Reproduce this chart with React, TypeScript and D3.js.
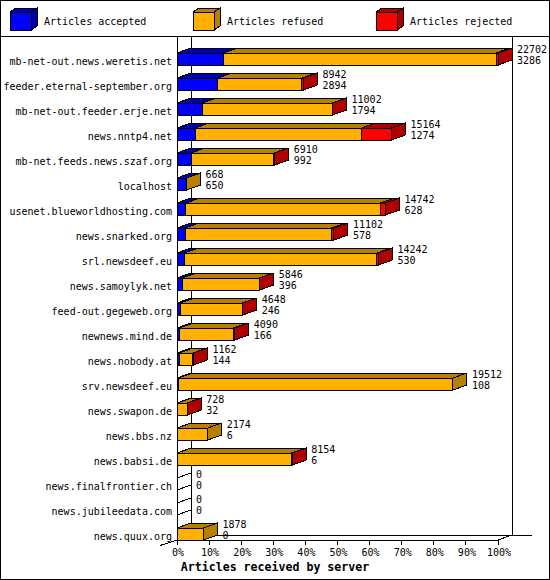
import { useEffect } from "react";
import * as d3 from "d3";

// servers, top to bottom
const hosts = [
  "mb-net-out.news.weretis.net",
  "feeder.eternal-september.org",
  "mb-net-out.feeder.erje.net",
  "news.nntp4.net",
  "mb-net.feeds.news.szaf.org",
  "localhost",
  "usenet.blueworldhosting.com",
  "news.snarked.org",
  "srl.newsdeef.eu",
  "news.samoylyk.net",
  "feed-out.gegeweb.org",
  "newnews.mind.de",
  "news.nobody.at",
  "srv.newsdeef.eu",
  "news.swapon.de",
  "news.bbs.nz",
  "news.babsi.de",
  "news.finalfrontier.ch",
  "news.jubileedata.com",
  "news.quux.org",
];

const totals = [
  22702, 8942, 11002, 15164, 6910, 668, 14742, 11102, 14242, 5846, 4648, 4090,
  1162, 19512, 728, 2174, 8154, 0, 0, 1878,
];
const accepted = [
  3286, 2894, 1794, 1274, 992, 650, 628, 578, 530, 396, 246, 166, 144, 108, 32,
  6, 6, 0, 0, 0,
];
// estimated from the red segments
const rejected = [
  140, 110, 30, 2100, 60, 0, 350, 180, 100, 30, 30, 100, 40, 0, 20, 0, 70, 0, 0,
  0,
];

const pctTicks = [0, 10, 20, 30, 40, 50, 60, 70, 80, 90, 100];

const seriesNames = ["Articles accepted", "Articles refused", "Articles rejected"];
const frontColors = ["#0000ff", "#ffb000", "#ff0000"];
const darkColors = ["#0000b0", "#b88000", "#b00000"];

const W = 550;
const H = 580;
const DX = 14;
const DY = 5;
const FONT = "'DejaVu Sans Mono', monospace";

const poly = (pts: [number, number][]) => d3.line()(pts.concat([pts[0]])) ?? "";

export default function App() {
  useEffect(() => {
    document.body.style.margin = "0";
  }, []);

  const x = d3
    .scaleLinear()
    .domain([0, d3.max(totals) ?? 1])
    .range([177, 498]);
  const pct = d3.scaleLinear().domain([0, 100]).range([177, 498]);
  const y = d3.scaleBand().domain(hosts).range([53, 540]).paddingInner(0.52);
  const bh = y.bandwidth();
  const left = x(0);
  const right = x.range()[1];
  const top = 37;
  const floor = 540;

  const rows = hosts.map((host, i) => {
    const refused = totals[i] - accepted[i] - rejected[i];
    const values = [accepted[i], refused, rejected[i]];
    let acc = 0;
    const segs = values.map((v, k) => {
      const s = { k, x0: x(acc), x1: x(acc + v), v };
      acc += v;
      return s;
    });
    return { host, i, segs: segs.filter((s) => s.v > 0), y0: y(host) ?? 0 };
  });

  const legendX = [10, 193, 376];

  return (
    <svg
      width={W}
      height={H}
      style={{ display: "block", fontFamily: FONT }}
      shapeRendering="crispEdges"
    >
      <rect x={0.5} y={0.5} width={W - 1} height={H - 1} fill="#fff" stroke="#000" />
      <line x1={0} x2={W} y1={36.5} y2={36.5} stroke="#000" />

      {seriesNames.map((name, k) => {
        const bx = legendX[k];
        const by = 12;
        const bw = 21;
        const bhh = 18;
        return (
          <g key={name}>
            <path
              d={poly([
                [bx, by],
                [bx + 6, by - 4],
                [bx + bw + 6, by - 4],
                [bx + bw, by],
              ])}
              fill={darkColors[k]}
              stroke="#000"
            />
            <path
              d={poly([
                [bx + bw, by],
                [bx + bw + 6, by - 4],
                [bx + bw + 6, by + bhh - 4],
                [bx + bw, by + bhh],
              ])}
              fill={darkColors[k]}
              stroke="#000"
            />
            <rect x={bx} y={by} width={bw} height={bhh} fill={frontColors[k]} stroke="#000" />
            <text x={bx + 34} y={25} fontSize={10}>
              {name}
            </text>
          </g>
        );
      })}

      {/* back wall and axes */}
      <g stroke="#000" fill="none">
        <line x1={left} x2={left} y1={top} y2={floor} />
        <line x1={left + DX} x2={left + DX} y1={top} y2={floor - DY} />
        <line x1={right + DX} x2={right + DX} y1={top} y2={floor - DY} />
        <line x1={left + DX} x2={532} y1={floor - DY} y2={floor - DY} />
        <line x1={left} x2={right} y1={floor} y2={floor} />
        <line x1={right} x2={right + DX} y1={floor} y2={floor - DY} />
        <line x1={left} x2={160} y1={floor} y2={floor + 5.5} />
        {pctTicks.map((t) => (
          <line key={t} x1={pct(t)} x2={pct(t)} y1={floor} y2={floor + 5} />
        ))}
      </g>
      {pctTicks.map((t) => (
        <text key={t} x={pct(t) + 1} y={556} fontSize={10} textAnchor="middle">
          {t}%
        </text>
      ))}

      {rows.map(({ host, i, segs, y0 }) => {
        const y1 = y0 + bh;
        const last = segs[segs.length - 1];
        const endX = last ? last.x1 : left;
        const sideFill = last ? darkColors[last.k] : "none";
        return (
          <g key={host}>
            {segs.map((s) => (
              <g key={s.k}>
                <path
                  d={poly([
                    [s.x0, y0],
                    [s.x0 + DX, y0 - DY],
                    [s.x1 + DX, y0 - DY],
                    [s.x1, y0],
                  ])}
                  fill={darkColors[s.k]}
                  stroke="#000"
                />
                <rect
                  x={s.x0}
                  y={y0}
                  width={s.x1 - s.x0}
                  height={bh}
                  fill={frontColors[s.k]}
                  stroke="#000"
                />
              </g>
            ))}
            <path
              d={poly([
                [endX, y0],
                [endX + DX, y0 - DY],
                [endX + DX, y1 - DY],
                [endX, y1],
              ])}
              fill={sideFill}
              stroke="#000"
            />
            <text x={172} y={y1 - 0.5} fontSize={10} textAnchor="end">
              {host}
            </text>
            <text x={endX + DX + 5} y={y0} fontSize={10}>
              {totals[i]}
            </text>
            <text x={endX + DX + 5} y={y0 + 10.5} fontSize={10}>
              {accepted[i]}
            </text>
          </g>
        );
      })}

      <text x={W / 2} y={571} fontSize={11.6} fontWeight="bold" textAnchor="middle">
        Articles received by server
      </text>
    </svg>
  );
}
